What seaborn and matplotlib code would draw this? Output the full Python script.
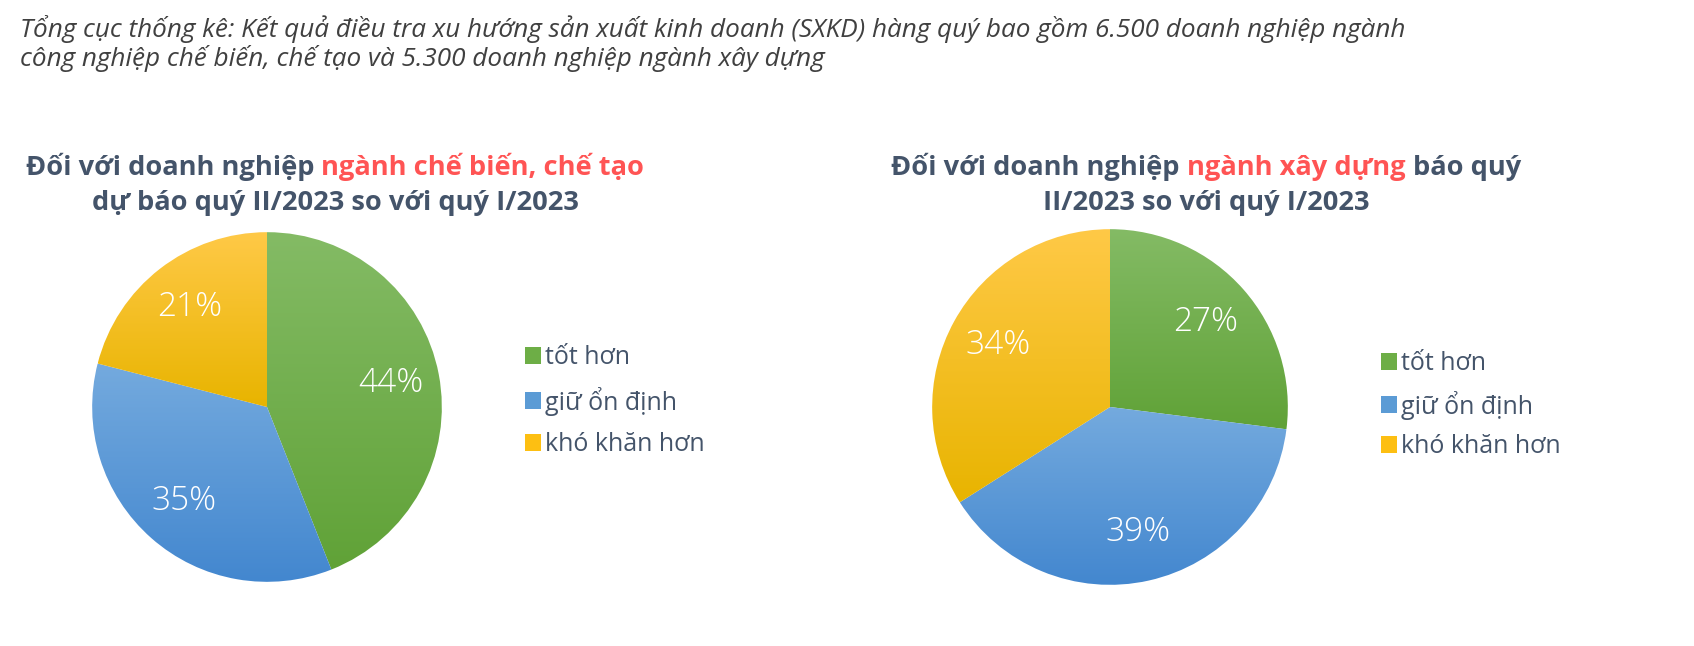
import matplotlib
matplotlib.use("Agg")
import matplotlib.pyplot as plt
from matplotlib.colors import LinearSegmentedColormap
from matplotlib.patches import Patch
import seaborn as sns
import numpy as np

sns.set_theme(style="white")
plt.rcParams["font.family"] = ["Open Sans", "DejaVu Sans"]

# ── data ────────────────────────────────────────────────────────────────────
CATEGORIES = ["tốt hơn", "giữ ổn định", "khó khăn hơn"]
MANUFACTURING = [44, 35, 21]
CONSTRUCTION = [27, 39, 34]

NOTE_LINES = [
    "Tổng cục thống kê: Kết quả điều tra xu hướng sản xuất kinh doanh (SXKD) hàng quý bao gồm 6.500 doanh nghiệp ngành",
    "công nghiệp chế biến, chế tạo và 5.300 doanh nghiệp ngành xây dựng",
]
TITLE_LEFT = [
    [("Đối với doanh nghiệp", "dark"), ("ngành chế biến, chế tạo", "red")],
    [("dự báo quý II/2023 so với quý I/2023", "dark")],
]
TITLE_RIGHT = [
    [("Đối với doanh nghiệp", "dark"), ("ngành xây dựng", "red"), ("báo quý", "dark")],
    [("II/2023 so với quý I/2023", "dark")],
]

# gradient (top, bottom) per category, solid colour for the legend
GRADIENTS = [("#84BB65", "#60A237"), ("#74AADE", "#4387CF"), ("#FFC947", "#E8B400")]
SOLID = ["#6DAE46", "#5B9BD5", "#FDBF12"]
TEXT = {"dark": "#44546A", "red": "#FF5454"}

W, H = 1694, 646
fig = plt.figure(figsize=(W / 100, H / 100), dpi=100)
fig.patch.set_facecolor("white")


def px_axes(cx, cy, r):
    return fig.add_axes([(cx - r) / W, (H - cy - r) / H, 2 * r / W, 2 * r / H])


def gradient_pie(ax, values):
    wedges, _, autotexts = ax.pie(
        values, startangle=90, counterclock=False, radius=1,
        autopct="%d%%", pctdistance=0.72,
        wedgeprops=dict(linewidth=0, facecolor="none"),
        textprops=dict(color="white", fontsize=24, fontweight="light"),
    )
    for w, (top, bottom) in zip(wedges, GRADIENTS):
        ext = w.get_path().get_extents()
        cmap = LinearSegmentedColormap.from_list("g", [bottom, top])
        grad = np.linspace(0, 1, 256).reshape(-1, 1)
        im = ax.imshow(grad, cmap=cmap, origin="lower", aspect="auto",
                       extent=[ext.x0, ext.x1, ext.y0, ext.y1], zorder=0.5,
                       interpolation="bilinear")
        im.set_clip_path(w)
    for t in autotexts:
        t.set_zorder(3)
    ax.set_xlim(-1.001, 1.001)
    ax.set_ylim(-1.001, 1.001)
    ax.axis("off")


def add_legend(x, y, spacing):
    handles = [Patch(facecolor=c, edgecolor="none") for c in SOLID]
    fig.legend(handles, CATEGORIES, loc="center left", bbox_to_anchor=(x / W, 1 - y / H),
               frameon=False, fontsize=18, labelcolor="#44546A",
               handlelength=0.65, handleheight=0.65, handletextpad=0.15,
               labelspacing=spacing, borderpad=0, borderaxespad=0)


def title_line(parts, cx, baseline, size=19.6):
    renderer = fig.canvas.get_renderer()
    texts = [fig.text(0, 1 - baseline / H, s, color=TEXT[c], fontsize=size,
                      fontweight="bold", va="baseline") for s, c in parts]
    probe = fig.text(0, 0, "x x", fontsize=size, fontweight="bold")
    probe2 = fig.text(0, 0, "xx", fontsize=size, fontweight="bold")
    space = (probe.get_window_extent(renderer).width - probe2.get_window_extent(renderer).width)
    probe.remove()
    probe2.remove()
    widths = [t.get_window_extent(renderer).width for t in texts]
    total = sum(widths) + space * (len(texts) - 1)
    x = cx - total / 2
    for t, w in zip(texts, widths):
        t.set_x(x / W)
        x += w + space


# note at the top
fig.text(20 / W, 1 - 37 / H, NOTE_LINES[0], fontsize=18.8, style="italic", color="#404040", va="baseline")
fig.text(20 / W, 1 - 66 / H, NOTE_LINES[1], fontsize=18.8, style="italic", color="#404040", va="baseline")

# titles
title_line(TITLE_LEFT[0], 335, 175)
title_line(TITLE_LEFT[1], 335, 210)
title_line(TITLE_RIGHT[0], 1206, 175)
title_line(TITLE_RIGHT[1], 1206, 210)

# pies
gradient_pie(px_axes(267, 407, 175), MANUFACTURING)
gradient_pie(px_axes(1110, 407, 178), CONSTRUCTION)

add_legend(525, 401, 0.66)
add_legend(1381, 405, 0.58)

fig.savefig("out.png", dpi=100, facecolor="white")
